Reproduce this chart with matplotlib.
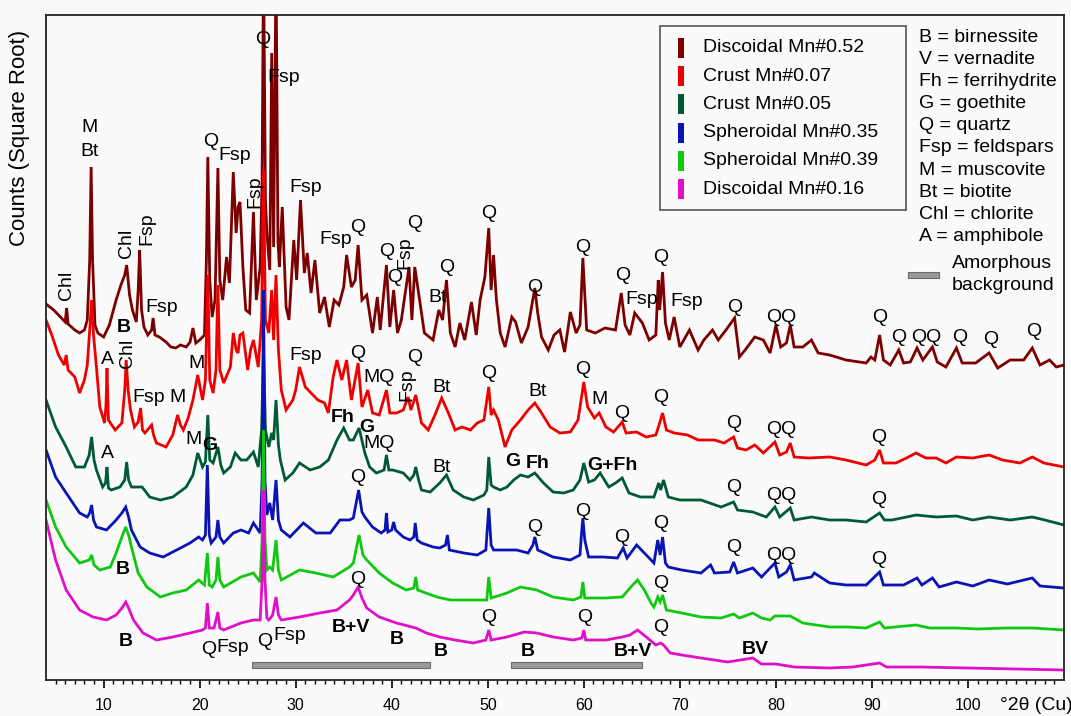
import numpy as np
import matplotlib.pyplot as plt
from matplotlib.patches import Rectangle
from matplotlib.transforms import Affine2D

plt.rcParams['font.family'] = ['Liberation Sans', 'DejaVu Sans']

# XRD patterns: [2theta (deg), sqrt counts] - already stacked with offsets
disc_052 = np.array([
    [4.0, 376], [4.8, 370], [5.6, 362], [6.0, 358], [6.15, 372], [6.3, 356], [7.0, 350], [7.5, 347],
    [8.0, 350], [8.3, 360], [8.55, 420], [8.7, 513], [8.85, 420], [9.1, 355], [9.4, 347], [10.0, 343],
    [10.6, 355], [11.3, 380], [11.8, 395], [12.2, 405], [12.4, 415], [12.7, 385], [13.0, 370], [13.4, 358],
    [13.6, 390], [13.75, 430], [13.95, 370], [14.2, 353], [14.6, 345], [15.0, 350], [15.15, 362], [15.35, 345],
    [15.8, 343], [16.5, 338], [17.0, 333], [17.5, 332], [18.0, 335], [18.6, 333], [19.0, 338], [19.3, 352],
    [19.6, 337], [20.0, 340], [20.5, 345], [20.7, 420], [20.85, 523], [21.05, 400], [21.3, 363], [21.6, 380],
    [21.9, 512], [22.1, 400], [22.4, 380], [22.8, 423], [23.1, 397], [23.5, 508], [23.8, 447], [24.0, 473],
    [24.2, 478], [24.5, 413], [24.8, 370], [25.2, 367], [25.6, 468], [25.9, 380], [26.3, 413], [26.5, 500],
    [26.65, 720], [26.85, 480], [27.0, 447], [27.3, 410], [27.5, 627], [27.7, 433], [27.95, 720], [28.15, 440],
    [28.3, 413], [28.6, 473], [29.0, 373], [29.3, 360], [29.8, 440], [30.1, 400], [30.5, 480], [30.9, 407],
    [31.2, 427], [31.6, 387], [32.0, 420], [32.5, 367], [33.0, 383], [33.5, 353], [34.0, 380], [34.5, 375],
    [35.0, 393], [35.3, 425], [35.8, 393], [36.2, 400], [36.5, 435], [36.9, 380], [37.4, 385], [38.0, 347],
    [38.5, 383], [38.8, 350], [39.45, 415], [39.8, 353], [40.2, 390], [40.6, 347], [41.0, 360], [41.8, 413],
    [42.1, 360], [42.4, 413], [42.9, 380], [43.4, 347], [44.3, 340], [44.9, 370], [45.3, 360], [45.7, 400],
    [46.1, 347], [46.6, 333], [47.1, 357], [47.6, 340], [48.3, 378], [48.8, 345], [49.2, 380], [49.7, 403],
    [50.1, 452], [50.35, 390], [50.6, 425], [50.9, 380], [51.3, 347], [51.8, 333], [52.5, 363], [52.9, 358],
    [53.5, 337], [54.2, 353], [54.9, 392], [55.2, 367], [55.6, 343], [56.3, 330], [56.9, 345], [57.5, 350],
    [58.0, 328], [58.6, 368], [59.2, 347], [59.6, 355], [59.9, 422], [60.3, 350], [61.2, 347], [62.2, 352],
    [63.3, 350], [63.9, 387], [64.3, 355], [64.8, 345], [65.3, 367], [66.1, 357], [66.8, 340], [67.5, 345],
    [67.75, 400], [67.9, 370], [68.2, 408], [68.5, 357], [68.9, 340], [69.4, 363], [70.0, 333], [71.0, 350],
    [71.9, 330], [72.5, 340], [73.4, 350], [74.0, 340], [74.8, 350], [75.7, 362], [76.2, 323], [76.8, 330],
    [77.8, 343], [78.7, 340], [79.4, 327], [80.0, 355], [80.5, 333], [81.1, 337], [81.5, 355], [81.9, 333],
    [82.8, 333], [83.7, 340], [84.4, 327], [85.6, 325], [87.3, 320], [89.4, 317], [89.9, 323], [90.3, 320],
    [90.8, 345], [91.2, 320], [91.9, 315], [92.8, 330], [93.3, 317], [94.0, 318], [94.7, 332], [95.3, 320],
    [96.3, 333], [96.8, 318], [97.7, 313], [98.8, 332], [99.4, 317], [100.8, 317], [102.2, 327], [103.1, 312],
    [104.4, 320], [105.8, 320], [106.7, 332], [107.5, 315], [108.5, 320], [109.2, 313], [110.0, 315]])

crust_007 = np.array([
    [4.0, 360], [4.6, 345], [5.3, 325], [5.9, 315], [6.1, 325], [6.3, 310], [7.0, 303], [7.5, 287],
    [8.0, 300], [8.3, 315], [8.55, 350], [8.75, 380], [8.95, 345], [9.25, 313], [9.6, 273], [10.1, 257],
    [10.25, 275], [10.35, 312], [10.5, 260], [11.2, 250], [11.9, 257], [12.2, 290], [12.35, 320], [12.55, 290],
    [12.8, 270], [13.2, 253], [13.6, 258], [13.85, 272], [14.05, 250], [14.3, 247], [15.0, 255], [15.2, 245],
    [15.5, 237], [16.5, 233], [17.2, 245], [17.7, 265], [18.0, 255], [18.3, 250], [18.8, 262], [19.3, 280],
    [19.8, 305], [20.3, 280], [20.6, 300], [20.85, 405], [21.05, 300], [21.4, 287], [21.7, 310], [21.9, 395],
    [22.1, 310], [22.5, 297], [23.2, 313], [23.5, 347], [23.8, 330], [24.0, 327], [24.2, 345], [24.5, 347],
    [25.0, 310], [25.3, 330], [25.6, 340], [26.1, 313], [26.45, 360], [26.65, 510], [26.85, 360], [27.2, 347],
    [27.5, 390], [27.7, 340], [27.95, 405], [28.2, 330], [28.5, 290], [29.0, 270], [29.7, 280], [30.0, 290],
    [30.4, 313], [31.0, 293], [31.6, 287], [32.3, 280], [33.0, 277], [33.4, 267], [33.9, 303], [34.3, 320],
    [34.8, 300], [35.3, 320], [35.8, 280], [36.5, 317], [36.9, 273], [37.5, 290], [38.0, 267], [38.7, 265],
    [39.45, 290], [39.8, 267], [40.5, 267], [41.2, 270], [41.7, 283], [42.0, 270], [42.5, 285], [43.1, 257],
    [43.8, 250], [44.5, 265], [45.2, 282], [45.9, 267], [46.6, 250], [47.3, 253], [48.2, 250], [48.9, 257],
    [49.6, 260], [50.1, 293], [50.35, 265], [50.6, 270], [51.1, 260], [51.8, 233], [52.5, 250], [53.4, 260],
    [54.2, 270], [54.9, 277], [55.6, 267], [56.5, 253], [57.5, 247], [58.6, 248], [59.4, 260], [60.0, 298],
    [60.4, 273], [61.1, 262], [61.6, 267], [62.3, 253], [63.1, 248], [64.0, 258], [64.4, 247], [65.5, 248],
    [66.5, 243], [67.5, 245], [67.9, 257], [68.2, 267], [68.6, 250], [69.4, 247], [70.8, 245], [71.9, 240],
    [73.6, 240], [74.6, 237], [75.6, 243], [76.0, 232], [76.9, 230], [77.8, 235], [78.7, 227], [79.9, 238],
    [80.4, 225], [81.1, 228], [81.5, 237], [81.9, 223], [83.4, 222], [85.6, 223], [87.3, 220], [89.4, 215],
    [90.3, 220], [90.8, 230], [91.2, 217], [92.5, 217], [93.6, 222], [94.6, 227], [95.6, 222], [96.7, 222],
    [97.7, 217], [98.8, 223], [100.5, 222], [102.2, 225], [103.6, 220], [105.4, 217], [106.7, 223], [107.9, 217],
    [110.0, 213]])

crust_005 = np.array([
    [4.0, 280], [5.0, 253], [6.1, 233], [7.1, 213], [8.0, 213], [8.5, 225], [8.75, 243], [9.0, 220],
    [9.25, 210], [9.9, 193], [10.2, 197], [10.35, 213], [10.5, 192], [10.8, 190], [11.7, 193], [12.2, 200],
    [12.4, 218], [12.6, 200], [12.9, 193], [14.0, 193], [14.8, 183], [15.9, 180], [17.2, 183], [18.6, 193],
    [19.3, 205], [19.8, 227], [20.3, 213], [20.6, 218], [20.85, 265], [21.05, 220], [21.4, 217], [21.9, 233],
    [22.2, 215], [22.5, 207], [23.2, 213], [23.7, 227], [24.3, 220], [24.9, 220], [25.6, 228], [26.1, 213],
    [26.45, 250], [26.65, 330], [26.85, 250], [27.2, 233], [27.5, 247], [27.7, 240], [27.95, 280], [28.2, 235],
    [28.4, 220], [28.9, 200], [29.7, 207], [30.4, 217], [31.5, 210], [32.5, 213], [33.4, 220], [34.3, 240],
    [35.0, 252], [35.6, 240], [36.0, 240], [36.6, 252], [37.2, 227], [37.7, 213], [38.4, 207], [39.2, 210],
    [39.45, 225], [39.7, 210], [40.1, 210], [41.2, 207], [41.9, 200], [42.3, 205], [42.5, 213], [42.8, 200],
    [43.1, 190], [44.0, 188], [45.0, 197], [45.7, 205], [46.4, 190], [47.5, 183], [48.5, 180], [49.6, 185],
    [49.9, 190], [50.1, 223], [50.35, 195], [50.6, 193], [51.3, 190], [52.0, 193], [52.7, 200], [53.4, 205],
    [54.2, 203], [54.9, 207], [55.8, 197], [56.8, 188], [57.9, 187], [58.9, 190], [59.6, 200], [60.0, 217],
    [60.5, 198], [61.1, 200], [61.7, 207], [62.6, 193], [63.3, 197], [64.0, 202], [64.7, 187], [65.9, 183],
    [67.3, 183], [67.8, 197], [68.0, 190], [68.3, 200], [68.8, 183], [70.0, 180], [72.2, 180], [74.3, 173],
    [75.6, 178], [76.0, 170], [77.6, 168], [79.0, 163], [79.9, 173], [80.4, 163], [81.5, 172], [81.9, 160],
    [83.7, 163], [85.6, 160], [87.3, 160], [89.4, 158], [90.8, 167], [91.3, 160], [92.1, 160], [94.6, 165],
    [96.7, 163], [98.8, 164], [100.5, 160], [102.2, 163], [104.4, 160], [106.7, 163], [108.0, 160], [110.0, 155]])

spher_035 = np.array([
    [4.0, 230], [5.0, 203], [6.1, 187], [7.5, 167], [8.3, 163], [8.55, 167], [8.75, 175], [8.95, 160],
    [9.25, 153], [10.3, 150], [11.3, 160], [11.9, 167], [12.3, 173], [12.6, 163], [12.9, 150], [13.8, 133],
    [14.8, 127], [16.2, 123], [17.6, 130], [19.0, 137], [19.9, 143], [20.3, 140], [20.6, 145], [20.8, 215],
    [21.0, 145], [21.2, 137], [21.7, 143], [21.9, 160], [22.1, 143], [22.5, 137], [23.5, 147], [24.3, 150],
    [25.1, 147], [25.6, 157], [26.3, 147], [26.5, 200], [26.65, 390], [26.8, 200], [27.0, 165], [27.3, 177],
    [27.6, 160], [27.95, 200], [28.2, 160], [28.5, 150], [29.4, 143], [30.8, 157], [32.1, 147], [33.6, 147],
    [34.6, 160], [35.6, 160], [36.0, 162], [36.55, 190], [36.9, 168], [37.2, 163], [38.0, 153], [38.9, 147],
    [39.3, 150], [39.45, 167], [39.6, 148], [40.0, 150], [40.2, 158], [40.4, 150], [41.2, 143], [41.9, 140],
    [42.3, 143], [42.45, 157], [42.65, 140], [43.1, 137], [44.3, 133], [45.0, 132], [45.6, 135], [45.8, 145],
    [46.0, 130], [47.5, 127], [48.9, 125], [49.8, 130], [50.1, 172], [50.35, 135], [50.6, 130], [51.6, 130],
    [53.0, 130], [54.2, 127], [54.7, 135], [54.9, 143], [55.2, 130], [56.8, 123], [58.6, 120], [59.6, 125],
    [59.75, 145], [59.9, 162], [60.1, 140], [60.5, 123], [62.0, 123], [63.5, 122], [64.1, 132], [64.5, 122],
    [65.5, 135], [66.3, 127], [67.3, 117], [67.7, 140], [67.95, 125], [68.2, 143], [68.5, 117], [68.8, 113],
    [70.2, 110], [72.2, 107], [73.2, 115], [73.6, 107], [75.2, 108], [75.6, 118], [76.0, 107], [77.6, 112],
    [78.5, 103], [79.9, 117], [80.3, 103], [81.1, 108], [81.5, 115], [81.9, 100], [83.7, 103], [84.0, 107],
    [85.6, 97], [87.3, 95], [89.4, 95], [90.8, 108], [91.2, 95], [93.3, 95], [94.7, 102], [95.2, 95],
    [96.3, 102], [97.0, 93], [98.8, 98], [100.5, 94], [102.2, 100], [104.1, 96], [106.7, 102], [107.5, 94],
    [110.0, 92]])

spher_039 = np.array([
    [4.0, 180], [5.0, 153], [6.1, 133], [7.5, 117], [8.5, 120], [8.75, 125], [9.0, 115], [9.6, 110],
    [10.7, 113], [11.3, 127], [11.9, 143], [12.3, 153], [12.6, 145], [12.9, 133], [13.6, 107], [14.5, 93],
    [15.9, 83], [17.2, 87], [18.6, 90], [19.9, 100], [20.5, 95], [20.8, 127], [21.0, 95], [21.3, 93],
    [21.7, 100], [21.9, 123], [22.1, 100], [22.5, 93], [24.3, 103], [25.6, 107], [26.3, 98], [26.5, 140],
    [26.65, 250], [26.8, 140], [27.0, 110], [27.3, 113], [27.6, 110], [27.95, 140], [28.2, 110], [28.5, 100],
    [30.4, 110], [32.1, 107], [33.9, 103], [35.6, 113], [36.0, 117], [36.6, 145], [37.0, 125], [37.4, 120],
    [38.7, 107], [40.1, 97], [41.5, 90], [42.3, 92], [42.5, 103], [42.7, 90], [44.7, 83], [46.1, 80],
    [48.5, 80], [49.9, 80], [50.1, 103], [50.35, 82], [52.0, 87], [53.4, 93], [55.1, 90], [56.8, 83],
    [58.9, 80], [59.7, 83], [59.9, 98], [60.1, 82], [62.3, 82], [64.0, 83], [64.9, 93], [65.6, 100],
    [66.3, 90], [67.0, 77], [67.3, 73], [67.7, 83], [67.95, 78], [68.2, 85], [68.6, 70], [70.2, 67],
    [72.2, 63], [74.3, 62], [75.6, 66], [76.2, 62], [77.6, 67], [78.5, 62], [79.4, 60], [79.9, 64],
    [81.5, 64], [82.8, 57], [85.6, 53], [87.5, 53], [89.4, 52], [90.8, 58], [91.3, 52], [94.6, 55],
    [96.0, 52], [98.8, 52], [101.0, 51], [104.0, 52], [106.7, 52], [110.0, 50]])

disc_016 = np.array([
    [4.0, 160], [5.0, 120], [6.1, 90], [7.5, 70], [8.9, 63], [10.3, 60], [11.3, 65], [11.9, 72],
    [12.3, 78], [12.6, 72], [13.1, 60], [14.1, 47], [15.5, 40], [17.2, 43], [19.0, 47], [20.3, 50],
    [20.6, 52], [20.8, 77], [21.0, 52], [21.5, 52], [21.9, 68], [22.1, 52], [22.5, 50], [24.3, 57],
    [25.6, 60], [26.3, 60], [26.5, 100], [26.65, 190], [26.8, 100], [27.0, 62], [27.2, 60], [27.6, 65],
    [27.95, 83], [28.2, 65], [28.5, 60], [30.4, 63], [32.5, 67], [34.3, 70], [35.6, 80], [36.0, 85],
    [36.5, 93], [36.9, 82], [37.4, 72], [38.7, 63], [40.5, 57], [42.5, 52], [43.6, 47], [45.0, 43],
    [46.6, 40], [48.5, 37], [49.8, 40], [50.1, 50], [50.35, 40], [52.0, 43], [53.8, 48], [55.1, 47],
    [56.8, 43], [58.9, 40], [59.8, 42], [60.0, 50], [60.2, 40], [62.3, 40], [64.0, 43], [64.8, 45],
    [65.6, 50], [66.5, 43], [67.5, 35], [68.0, 37], [68.3, 35], [69.0, 27], [70.2, 25], [72.2, 22],
    [75.0, 18], [77.6, 22], [78.5, 16], [80.0, 16], [81.9, 13], [85.6, 12], [88.0, 13], [90.8, 17],
    [91.5, 13], [95.0, 13], [100.0, 12], [105.0, 11], [110.0, 10]])

series = [disc_052, crust_007, crust_005, spher_035, spher_039, disc_016]
names = ['Discoidal Mn#0.52', 'Crust Mn#0.07', 'Crust Mn#0.05',
         'Spheroidal Mn#0.35', 'Spheroidal Mn#0.39', 'Discoidal Mn#0.16']
colors = ['#7d0000', '#ee0000', '#005a35', '#0a14b4', '#10c810', '#e010c8']

# phase labels: text, 2theta, height, style (n = normal, b = bold, r = rotated)
labels = [
    # Discoidal Mn#0.52
    ('Chl', 6.15, 395, 'r'), ('M', 8.5, 552, 'n'), ('Bt', 8.5, 528, 'n'), ('Chl', 12.4, 437, 'r'),
    ('Fsp', 14.5, 451, 'r'), ('Fsp', 16.0, 372, 'n'), ('B', 12.1, 353, 'b'), ('Q', 21.15, 538, 'n'),
    ('Fsp', 23.6, 524, 'n'), ('Fsp', 25.7, 488, 'r'), ('Q', 26.55, 640, 'n'), ('Fsp', 28.75, 602, 'n'),
    ('Fsp', 31.0, 492, 'n'), ('Fsp', 34.2, 441, 'n'), ('Q', 36.5, 452, 'n'), ('Q', 39.5, 428, 'n'),
    ('Q', 40.3, 402, 'n'), ('Fsp', 41.35, 427, 'r'), ('Q', 42.4, 456, 'n'), ('Bt', 44.8, 382, 'n'),
    ('Q', 45.7, 413, 'n'), ('Q', 50.1, 467, 'n'), ('Q', 54.9, 393, 'n'), ('Q', 59.9, 433, 'n'),
    ('Q', 64.1, 405, 'n'), ('Fsp', 66.0, 380, 'n'), ('Q', 68.0, 423, 'n'), ('Fsp', 70.7, 378, 'n'),
    ('Q', 75.7, 373, 'n'), ('QQ', 80.6, 363, 'n'), ('Q', 90.8, 362, 'n'), ('Q', 92.8, 343, 'n'),
    ('QQ', 95.7, 343, 'n'), ('Q', 99.1, 343, 'n'), ('Q', 102.4, 340, 'n'), ('Q', 106.8, 348, 'n'),
    # Crust Mn#0.07
    ('A', 10.35, 320, 'n'), ('Chl', 12.5, 327, 'r'), ('Fsp', 14.7, 282, 'n'), ('M', 17.7, 283, 'n'),
    ('M', 19.7, 317, 'n'), ('Fsp', 31.0, 325, 'n'), ('Q', 36.5, 327, 'n'), ('MQ', 38.65, 303, 'n'),
    ('Fsp', 41.6, 295, 'r'), ('Q', 42.4, 323, 'n'), ('Bt', 45.2, 293, 'n'), ('Q', 50.1, 306, 'n'),
    ('Bt', 55.2, 289, 'n'), ('Q', 59.9, 310, 'n'), ('M', 61.6, 281, 'n'), ('Q', 63.9, 267, 'n'),
    ('Q', 68.0, 282, 'n'), ('Q', 75.6, 257, 'n'), ('QQ', 80.6, 250, 'n'), ('Q', 90.7, 242, 'n'),
    # Crust Mn#0.05
    ('A', 10.35, 227, 'n'), ('M', 19.4, 240, 'n'), ('G', 21.1, 235, 'b'), ('Fh', 34.9, 262, 'b'),
    ('G', 37.4, 253, 'b'), ('MQ', 38.65, 236, 'n'), ('Bt', 45.2, 213, 'n'), ('G', 52.6, 218, 'b'),
    ('Fh', 55.2, 217, 'b'), ('G+Fh', 63.0, 215, 'b'), ('Q', 75.6, 193, 'n'), ('QQ', 80.6, 185, 'n'),
    ('Q', 90.7, 181, 'n'),
    # Spheroidal Mn#0.35
    ('Q', 36.5, 203, 'n'), ('Q', 54.9, 152, 'n'), ('Q', 59.9, 168, 'n'), ('Q', 63.9, 143, 'n'),
    ('Q', 68.0, 157, 'n'), ('Q', 75.6, 133, 'n'), ('QQ', 80.6, 125, 'n'), ('Q', 90.7, 121, 'n'),
    # Spheroidal Mn#0.39
    ('B', 12.0, 111, 'b'), ('Q', 36.5, 101, 'n'), ('Q', 68.0, 97, 'n'),
    # Discoidal Mn#0.16
    ('B', 12.3, 38, 'b'), ('Q', 20.9, 30, 'n'), ('Fsp', 23.4, 33, 'n'), ('Q', 26.8, 38, 'n'),
    ('Fsp', 29.4, 45, 'n'), ('B+V', 35.8, 52, 'b'), ('B', 40.5, 40, 'b'), ('B', 45.1, 28, 'b'),
    ('B', 54.2, 28, 'b'), ('B+V', 65.1, 28, 'b'), ('Q', 50.1, 62, 'n'), ('Q', 60.1, 63, 'n'),
    ('Q', 68.0, 52, 'n'), ('BV', 77.9, 30, 'b'),
]

# amorphous background ranges (2theta start, end)
amorphous = [(25.4, 44.0), (52.4, 66.1)]

minerals = ['B = birnessite', 'V = vernadite', 'Fh = ferrihydrite', 'G = goethite',
            'Q = quartz', 'Fsp = feldspars', 'M = muscovite', 'Bt = biotite',
            'Chl = chlorite', 'A = amphibole']

W, H = 1071, 716
bg = '#fafafa'
fig = plt.figure(figsize=(W / 100, H / 100), dpi=100)
fig.patch.set_facecolor(bg)
ax = fig.add_axes([46 / W, 36 / H, 1018 / W, 665 / H])
ax.set_facecolor(bg)

for data, c in zip(series, colors):
    ax.plot(data[:, 0], data[:, 1], color=c, lw=2.0, solid_joinstyle='miter')

for txt, x, y, st in labels:
    ax.text(x, y, txt, ha='center', va='center', fontsize=14,
            fontweight='bold' if st == 'b' else 'normal',
            rotation=90 if st == 'r' else 0, zorder=5)

for x0, x1 in amorphous:
    ax.add_patch(Rectangle((x0, 12), x1 - x0, 6, facecolor='#9a9a9a',
                           edgecolor='#6a6a6a', lw=0.8, zorder=4))

ax.set_xlim(4, 110)
ax.set_ylim(0, 665)
ax.set_yticks([])
ax.set_xticks(np.arange(10, 101, 10))
ax.set_xticks(np.arange(5, 110, 1), minor=True)
ax.tick_params(axis='x', which='major', direction='out', length=6, width=1.2,
               labelsize=11.5, pad=7)
ax.tick_params(axis='x', which='minor', direction='out', length=3, width=1.0)
for sp in ax.spines.values():
    sp.set_linewidth(1.3)
    sp.set_color('#222222')

# figure pixel coordinates (origin top left)
pix = Affine2D().scale(1 / W, -1 / H).translate(0, 1) + fig.transFigure

fig.text(20 / W, 1 - 138 / H, 'Counts (Square Root)', rotation=90,
         ha='center', va='center', fontsize=16)
fig.text(1000 / W, 1 - 705 / H, '°2θ (Cu)', ha='left', va='center', fontsize=14)

# sample legend
fig.add_artist(Rectangle((660, 26), 246, 184, transform=pix, fill=False,
                         edgecolor='#555555', lw=1.2))
for i, (nm, c) in enumerate(zip(names, colors)):
    yy = 48 + i * 28.2
    fig.add_artist(Rectangle((678, yy - 10), 6, 20, transform=pix, facecolor=c, edgecolor='none'))
    fig.text(703, yy, nm, transform=pix, ha='left', va='center', fontsize=14)

# mineral key
for i, m in enumerate(minerals):
    fig.text(919, 37 + i * 22.2, m, transform=pix, ha='left', va='center', fontsize=14)
fig.add_artist(Rectangle((908, 272), 31, 6, transform=pix, facecolor='#9a9a9a',
                         edgecolor='#6a6a6a', lw=0.8))
fig.text(952, 263, 'Amorphous', transform=pix, ha='left', va='center', fontsize=14)
fig.text(952, 285, 'background', transform=pix, ha='left', va='center', fontsize=14)

plt.savefig('out.png', dpi=100, facecolor=bg)
